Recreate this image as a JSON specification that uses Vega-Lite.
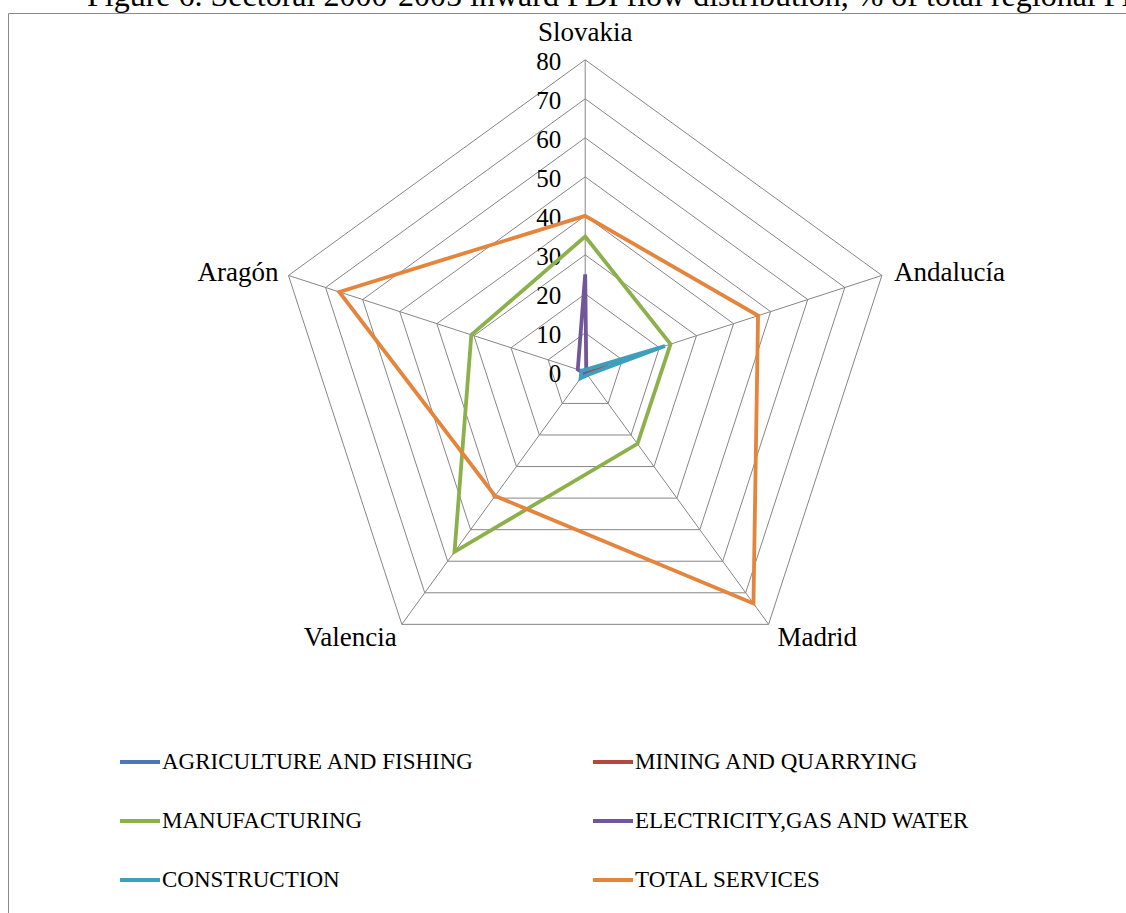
{
  "$schema": "https://vega.github.io/schema/vega-lite/v6.json",
  "width": 1131,
  "height": 905,
  "autosize": "none",
  "padding": {"left": 8, "top": 13, "right": 0, "bottom": 0},
  "background": "white",
  "title": {
    "text": "Figure 6. Sectoral 2000-2005 inward FDI flow distribution, % of total regional FDI",
    "anchor": "start",
    "dx": 79,
    "dy": 3,
    "offset": 3,
    "font": "Liberation Serif",
    "fontSize": 32,
    "fontWeight": "normal",
    "color": "black"
  },
  "config": {
    "view": {"stroke": "#8a8a8a", "strokeWidth": 1},
    "legend": {
      "orient": "none",
      "legendX": 110,
      "legendY": 727,
      "columns": 2,
      "direction": "horizontal",
      "symbolType": "stroke",
      "symbolSize": 1600,
      "symbolStrokeWidth": 3.8,
      "labelFont": "Liberation Serif",
      "labelFontSize": 23,
      "labelColor": "black",
      "labelOffset": 0,
      "labelLimit": 600,
      "rowPadding": 25,
      "columnPadding": 110
    }
  },
  "datasets": {
    "fdi": [
      {"sector": "AGRICULTURE AND FISHING", "region": "Slovakia", "value": 0.5},
      {"sector": "AGRICULTURE AND FISHING", "region": "Andalucía", "value": 1},
      {"sector": "AGRICULTURE AND FISHING", "region": "Madrid", "value": 0.3},
      {"sector": "AGRICULTURE AND FISHING", "region": "Valencia", "value": 0.5},
      {"sector": "AGRICULTURE AND FISHING", "region": "Aragón", "value": 0.5},
      {"sector": "MINING AND QUARRYING", "region": "Slovakia", "value": 0.3},
      {"sector": "MINING AND QUARRYING", "region": "Andalucía", "value": 6},
      {"sector": "MINING AND QUARRYING", "region": "Madrid", "value": 0.3},
      {"sector": "MINING AND QUARRYING", "region": "Valencia", "value": 0.3},
      {"sector": "MINING AND QUARRYING", "region": "Aragón", "value": 0.3},
      {"sector": "MANUFACTURING", "region": "Slovakia", "value": 34.7},
      {"sector": "MANUFACTURING", "region": "Andalucía", "value": 23},
      {"sector": "MANUFACTURING", "region": "Madrid", "value": 22.8},
      {"sector": "MANUFACTURING", "region": "Valencia", "value": 57},
      {"sector": "MANUFACTURING", "region": "Aragón", "value": 30.7},
      {"sector": "ELECTRICITY,GAS AND WATER", "region": "Slovakia", "value": 25},
      {"sector": "ELECTRICITY,GAS AND WATER", "region": "Andalucía", "value": 0.3},
      {"sector": "ELECTRICITY,GAS AND WATER", "region": "Madrid", "value": 0.3},
      {"sector": "ELECTRICITY,GAS AND WATER", "region": "Valencia", "value": 0.5},
      {"sector": "ELECTRICITY,GAS AND WATER", "region": "Aragón", "value": 2},
      {"sector": "CONSTRUCTION", "region": "Slovakia", "value": 0.5},
      {"sector": "CONSTRUCTION", "region": "Andalucía", "value": 21.5},
      {"sector": "CONSTRUCTION", "region": "Madrid", "value": 1},
      {"sector": "CONSTRUCTION", "region": "Valencia", "value": 2},
      {"sector": "CONSTRUCTION", "region": "Aragón", "value": 1},
      {"sector": "TOTAL SERVICES", "region": "Slovakia", "value": 40},
      {"sector": "TOTAL SERVICES", "region": "Andalucía", "value": 46.6},
      {"sector": "TOTAL SERVICES", "region": "Madrid", "value": 73.4},
      {"sector": "TOTAL SERVICES", "region": "Valencia", "value": 39.3},
      {"sector": "TOTAL SERVICES", "region": "Aragón", "value": 66.3}
    ],
    "rings": [
      {"level": 10, "region": ["Slovakia", "Andalucía", "Madrid", "Valencia", "Aragón"]},
      {"level": 20, "region": ["Slovakia", "Andalucía", "Madrid", "Valencia", "Aragón"]},
      {"level": 30, "region": ["Slovakia", "Andalucía", "Madrid", "Valencia", "Aragón"]},
      {"level": 40, "region": ["Slovakia", "Andalucía", "Madrid", "Valencia", "Aragón"]},
      {"level": 50, "region": ["Slovakia", "Andalucía", "Madrid", "Valencia", "Aragón"]},
      {"level": 60, "region": ["Slovakia", "Andalucía", "Madrid", "Valencia", "Aragón"]},
      {"level": 70, "region": ["Slovakia", "Andalucía", "Madrid", "Valencia", "Aragón"]},
      {"level": 80, "region": ["Slovakia", "Andalucía", "Madrid", "Valencia", "Aragón"]}
    ],
    "levels": [
      {"level": 0}, {"level": 10}, {"level": 20}, {"level": 30}, {"level": 40},
      {"level": 50}, {"level": 60}, {"level": 70}, {"level": 80}
    ],
    "regions": [
      {"region": "Slovakia", "level": 80},
      {"region": "Andalucía", "level": 80},
      {"region": "Madrid", "level": 80},
      {"region": "Valencia", "level": 80},
      {"region": "Aragón", "level": 80}
    ]
  },
  "encoding": {
    "x": {"field": "x", "type": "quantitative", "scale": {"domain": [-148, 142], "nice": false, "zero": false}, "axis": null},
    "y": {"field": "y", "type": "quantitative", "scale": {"domain": [-140, 92], "nice": false, "zero": false}, "axis": null}
  },
  "layer": [
    {
      "data": {"name": "rings"},
      "transform": [
        {"flatten": ["region"]},
        {"calculate": "indexof(['Slovakia','Andalucía','Madrid','Valencia','Aragón'], datum.region)", "as": "idx"},
        {"calculate": "datum.level * sin(datum.idx * 2 * PI / 5)", "as": "x"},
        {"calculate": "datum.level * cos(datum.idx * 2 * PI / 5)", "as": "y"}
      ],
      "mark": {"type": "line", "interpolate": "linear-closed", "stroke": "#868686", "strokeWidth": 1},
      "encoding": {
        "detail": {"field": "level", "type": "nominal"},
        "order": {"field": "idx", "type": "quantitative"}
      }
    },
    {
      "data": {"name": "regions"},
      "transform": [
        {"calculate": "indexof(['Slovakia','Andalucía','Madrid','Valencia','Aragón'], datum.region)", "as": "idx"},
        {"calculate": "datum.level * sin(datum.idx * 2 * PI / 5)", "as": "x"},
        {"calculate": "datum.level * cos(datum.idx * 2 * PI / 5)", "as": "y"}
      ],
      "mark": {"type": "rule", "stroke": "#868686", "strokeWidth": 1},
      "encoding": {
        "x2": {"datum": 0},
        "y2": {"datum": 0}
      }
    },
    {
      "data": {"name": "levels"},
      "transform": [
        {"calculate": "0", "as": "x"},
        {"calculate": "datum.level", "as": "y"}
      ],
      "mark": {"type": "text", "align": "right", "baseline": "middle", "dx": -24, "dy": 2, "font": "Liberation Serif", "fontSize": 25, "color": "black"},
      "encoding": {
        "text": {"field": "level", "type": "quantitative"}
      }
    },
    {
      "data": {"name": "fdi"},
      "transform": [
        {"calculate": "indexof(['Slovakia','Andalucía','Madrid','Valencia','Aragón'], datum.region)", "as": "idx"},
        {"calculate": "datum.value * sin(datum.idx * 2 * PI / 5)", "as": "x"},
        {"calculate": "datum.value * cos(datum.idx * 2 * PI / 5)", "as": "y"}
      ],
      "mark": {"type": "line", "interpolate": "linear-closed", "strokeWidth": 3.8},
      "encoding": {
        "color": {
          "field": "sector",
          "type": "nominal",
          "title": null,
          "scale": {
            "domain": ["AGRICULTURE AND FISHING", "MINING AND QUARRYING", "MANUFACTURING", "ELECTRICITY,GAS AND WATER", "CONSTRUCTION", "TOTAL SERVICES"],
            "range": ["#4A78B4", "#B5473F", "#8DB14A", "#72569B", "#3E9FBC", "#E5843B"]
          }
        },
        "order": {"field": "idx", "type": "quantitative"}
      }
    },
    {
      "data": {"name": "regions"},
      "transform": [
        {"filter": "datum.region == 'Slovakia'"},
        {"calculate": "0", "as": "x"},
        {"calculate": "80", "as": "y"}
      ],
      "mark": {"type": "text", "align": "center", "baseline": "alphabetic", "dy": -19, "font": "Liberation Serif", "fontSize": 27, "color": "black"},
      "encoding": {"text": {"field": "region", "type": "nominal"}}
    },
    {
      "data": {"name": "regions"},
      "transform": [
        {"filter": "datum.region == 'Andalucía'"},
        {"calculate": "80 * sin(2 * PI / 5)", "as": "x"},
        {"calculate": "80 * cos(2 * PI / 5)", "as": "y"}
      ],
      "mark": {"type": "text", "align": "left", "baseline": "alphabetic", "dx": 12, "dy": 6, "font": "Liberation Serif", "fontSize": 27, "color": "black"},
      "encoding": {"text": {"field": "region", "type": "nominal"}}
    },
    {
      "data": {"name": "regions"},
      "transform": [
        {"filter": "datum.region == 'Aragón'"},
        {"calculate": "80 * sin(8 * PI / 5)", "as": "x"},
        {"calculate": "80 * cos(8 * PI / 5)", "as": "y"}
      ],
      "mark": {"type": "text", "align": "right", "baseline": "alphabetic", "dx": -10, "dy": 6, "font": "Liberation Serif", "fontSize": 27, "color": "black"},
      "encoding": {"text": {"field": "region", "type": "nominal"}}
    },
    {
      "data": {"name": "regions"},
      "transform": [
        {"filter": "datum.region == 'Madrid'"},
        {"calculate": "80 * sin(4 * PI / 5)", "as": "x"},
        {"calculate": "80 * cos(4 * PI / 5)", "as": "y"}
      ],
      "mark": {"type": "text", "align": "left", "baseline": "alphabetic", "dx": 9, "dy": 22, "font": "Liberation Serif", "fontSize": 27, "color": "black"},
      "encoding": {"text": {"field": "region", "type": "nominal"}}
    },
    {
      "data": {"name": "regions"},
      "transform": [
        {"filter": "datum.region == 'Valencia'"},
        {"calculate": "80 * sin(6 * PI / 5)", "as": "x"},
        {"calculate": "80 * cos(6 * PI / 5)", "as": "y"}
      ],
      "mark": {"type": "text", "align": "right", "baseline": "alphabetic", "dx": -5, "dy": 22, "font": "Liberation Serif", "fontSize": 27, "color": "black"},
      "encoding": {"text": {"field": "region", "type": "nominal"}}
    }
  ]
}
